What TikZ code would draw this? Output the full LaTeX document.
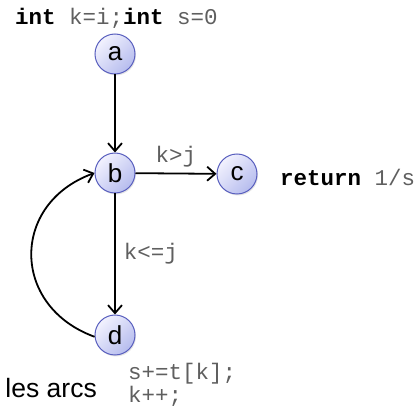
\documentclass[tikz,border=0pt]{standalone}
\usepackage{fontspec}
\setmainfont{Liberation Sans}
\setmonofont{Liberation Mono}
\usetikzlibrary{arrows.meta,shadows}

\definecolor{nodetop}{RGB}{242,242,254}
\definecolor{nodebot}{RGB}{182,188,238}
\definecolor{nodeline}{RGB}{88,94,190}
\definecolor{codegray}{RGB}{95,95,95}
\newcommand{\kw}[1]{\textbf{\color{black}#1}}

\begin{document}
\begin{tikzpicture}[x=1pt, y=1pt, >={Straight Barb[length=8pt,width=14pt]},
    vertex/.style={circle, draw=nodeline, line width=1pt, minimum size=40pt, inner sep=0pt,
      top color=nodetop, bottom color=nodebot, shading angle=45,
      drop shadow={shadow xshift=1pt, shadow yshift=-1.5pt, opacity=0.2},
      font=\fontsize{26}{26}\selectfont},
    code/.style={inner sep=0pt, text=codegray, font=\fontsize{22.5}{27}\selectfont\ttfamily},
    edge/.style={line width=1.8pt}]
        \useasboundingbox (0,0) rectangle (416,-409);
        % the four points of the graph
        \node[vertex] (a) at (115, -54) {a};
        \node[vertex] (b) at (115, -173) {b};
        \node[vertex] (c) at (237, -174) {c};
        \node[vertex] (d) at (115, -335) {d};
        \draw[edge, ->] (a) -- (b);
        \draw[edge, ->] (b) -- node[code, above=5pt] (gt) {k>j} (c);
        \draw[edge, ->] (b) -- node[code, right=8pt] (le) {k<=j} (d);
        \draw[edge, ->] (d.185) to[out=160, in=200, looseness=1.4] (b.west);
        % code fragments
        \node[code, anchor=base west] (init) at (15, -25) {\kw{int} k=i;\kw{int} s=0};
        \node[code, anchor=base west] (ret) at (280, -186) {\kw{return} 1/s};
        \node[code, anchor=base west] (sum) at (128, -380) {s+=t[k];};
        \node[code, anchor=base west] (inc) at (128, -403) {k++;};
        \node[inner sep=0pt, anchor=base east, font=\fontsize{26.5}{26.5}\selectfont] (arcs) at (97, -398) {s les arcs};
\end{tikzpicture}
\end{document}
